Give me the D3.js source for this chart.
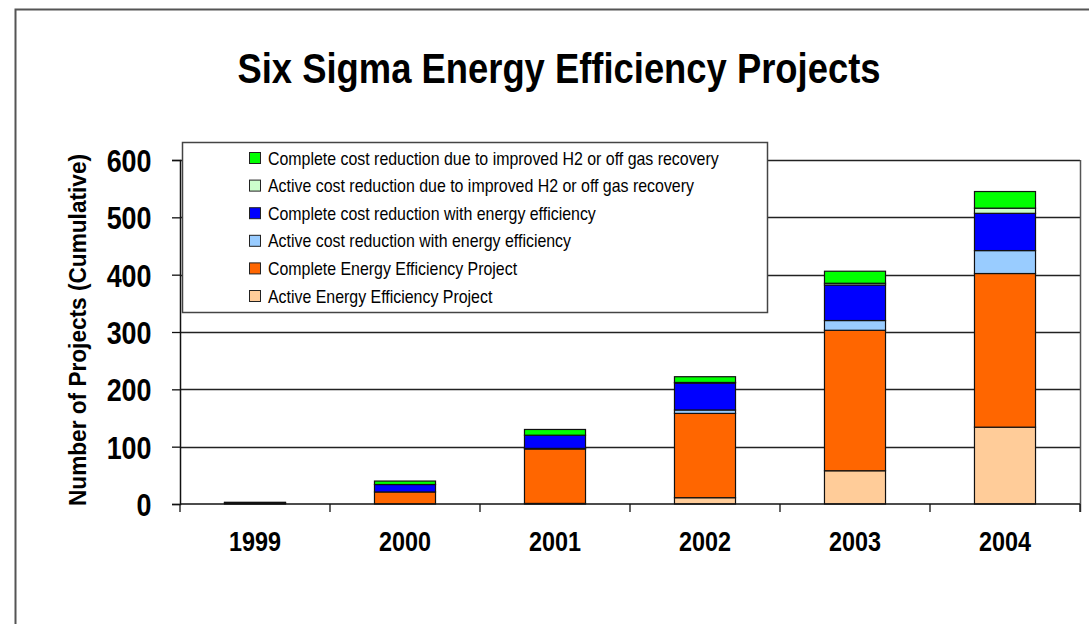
<!DOCTYPE html>
<html>
<head>
<meta charset="utf-8">
<script src="https://cdn.jsdelivr.net/npm/d3@7"></script>
<style>
  body { margin: 0; background: #fff; }
  text { font-family: "Liberation Sans Narrow", "Arial Narrow", "Liberation Sans", Arial, sans-serif; }
</style>
</head>
<body>
<svg width="1089" height="624"></svg>
<script>
// chart data
var years = ["1999", "2000", "2001", "2002", "2003", "2004"];
var seriesNames = [
  "Active Energy Efficiency Project",
  "Complete Energy Efficiency Project",
  "Active cost reduction with energy efficiency",
  "Complete cost reduction with energy efficiency",
  "Active cost reduction due to improved H2 or off gas recovery",
  "Complete cost reduction due to improved H2 or off gas recovery"
];
var activeEE   = [1, 0, 1, 11, 58, 134];
var completeEE = [1, 21, 95, 147, 245, 268];
var activeCost = [0, 0, 1, 6, 17, 40];
var completeCost = [1, 13, 23, 47, 62, 65];
var activeH2   = [0, 0, 0, 1, 3, 9];
var completeH2 = [0, 6, 10, 10, 21, 29];
var yTicks = [0, 100, 200, 300, 400, 500, 600];
var colours = ["#FFCC99", "#FF6600", "#99CCFF", "#0000FF", "#CCFFCC", "#00FF00"];

var svg = d3.select("svg");

// squeeze text horizontally so it looks like a narrow face
function condense(sel, k) {
  sel.each(function() {
    var len = this.getComputedTextLength();
    d3.select(this)
      .attr("textLength", len * k)
      .attr("lengthAdjust", "spacingAndGlyphs");
  });
}

// outer frame (only the top and left edges are in view)
svg.append("path")
    .attr("d", "M15.5,624 V9.5 H1089")
    .attr("fill", "none")
    .attr("stroke", "#555")
    .attr("stroke-width", 2);

var plotLeft = 180, plotRight = 1080, plotTop = 160, plotBottom = 504;

var x = d3.scaleBand()
    .domain(years)
    .range([plotLeft, plotRight])
    .paddingInner(0.593)
    .paddingOuter(0.593 / 2);

var y = d3.scaleLinear()
    .domain([0, 600])
    .range([plotBottom, plotTop]);

// gridlines
svg.append("g")
    .selectAll("line")
    .data(yTicks.filter(function(d) { return d > 0; }))
    .enter().append("line")
    .attr("x1", plotLeft)
    .attr("x2", plotRight)
    .attr("y1", function(d) { return Math.round(y(d)) + 0.5; })
    .attr("y2", function(d) { return Math.round(y(d)) + 0.5; })
    .attr("stroke", "#222")
    .attr("stroke-width", 1.3);

// right edge of plot
svg.append("line")
    .attr("x1", plotRight + 0.5).attr("x2", plotRight + 0.5)
    .attr("y1", plotTop).attr("y2", plotBottom + 8)
    .attr("stroke", "#555").attr("stroke-width", 1.5);

// stacked bars
var rows = years.map(function(yr, i) {
  return { year: yr, s0: activeEE[i], s1: completeEE[i], s2: activeCost[i],
           s3: completeCost[i], s4: activeH2[i], s5: completeH2[i] };
});
var stack = d3.stack().keys(["s0", "s1", "s2", "s3", "s4", "s5"]);
var layers = stack(rows);

svg.append("g")
    .selectAll("g")
    .data(layers)
    .enter().append("g")
    .attr("fill", function(d, i) { return colours[i]; })
    .selectAll("rect")
    .data(function(d) { return d; })
    .enter().append("rect")
    .attr("x", function(d) { return x(d.data.year); })
    .attr("width", x.bandwidth())
    .attr("y", function(d) { return y(d[1]); })
    .attr("height", function(d) { return y(d[0]) - y(d[1]); })
    .attr("stroke", "#111")
    .attr("stroke-width", 1.2);

// y axis
var yAxis = d3.axisLeft(y)
    .tickValues(yTicks)
    .tickSize(8)
    .tickFormat(d3.format("d"));
var yg = svg.append("g")
    .attr("transform", "translate(" + plotLeft + ",0)")
    .call(yAxis);
yg.select(".domain").attr("stroke", "#111").attr("stroke-width", 1.5);
yg.selectAll(".tick line").attr("stroke", "#111").attr("stroke-width", 1.3);
yg.selectAll(".tick text")
    .attr("x", -28.5)
    .attr("dy", "0.36em")
    .attr("font-size", 32)
    .attr("font-weight", "bold")
    .attr("fill", "#000")
    .call(condense, 0.84);

// x axis: ticks at band boundaries
var xg = svg.append("g")
    .attr("transform", "translate(0," + plotBottom + ")");
xg.append("line")
    .attr("x1", plotLeft).attr("x2", plotRight)
    .attr("stroke", "#111").attr("stroke-width", 1.5);
xg.selectAll(".xtick")
    .data(years.concat(["end"]))
    .enter().append("line")
    .attr("class", "xtick")
    .attr("x1", function(d, i) { return plotLeft + i * x.step(); })
    .attr("x2", function(d, i) { return plotLeft + i * x.step(); })
    .attr("y1", 0).attr("y2", 8)
    .attr("stroke", "#111").attr("stroke-width", 1.3);
xg.selectAll(".xlabel")
    .data(years)
    .enter().append("text")
    .attr("class", "xlabel")
    .attr("x", function(d) { return x(d) + x.bandwidth() / 2; })
    .attr("y", 46.5)
    .attr("text-anchor", "middle")
    .attr("font-size", 28)
    .attr("font-weight", "bold")
    .text(function(d) { return d; })
    .call(condense, 0.835);

// axis title
svg.append("text")
    .attr("transform", "translate(78,330) rotate(-90)")
    .attr("text-anchor", "middle")
    .attr("dominant-baseline", "central")
    .attr("font-size", 23)
    .attr("font-weight", "bold")
    .text("Number of Projects (Cumulative)")
    .attr("textLength", 352)
    .attr("lengthAdjust", "spacingAndGlyphs");

// title
svg.append("text")
    .attr("x", 559)
    .attr("y", 83)
    .attr("text-anchor", "middle")
    .attr("font-size", 42)
    .attr("font-weight", "bold")
    .text("Six Sigma Energy Efficiency Projects")
    .attr("textLength", 643)
    .attr("lengthAdjust", "spacingAndGlyphs");

// legend
var legend = svg.append("g");
legend.append("rect")
    .attr("x", 182.5).attr("y", 142.5)
    .attr("width", 585).attr("height", 170)
    .attr("fill", "#fff")
    .attr("stroke", "#444").attr("stroke-width", 1.5);

var legendOrder = d3.range(seriesNames.length).reverse();
var item = legend.selectAll(".item")
    .data(legendOrder)
    .enter().append("g")
    .attr("class", "item")
    .attr("transform", function(d, i) { return "translate(249," + (158 + i * 27.6) + ")"; });
item.append("rect")
    .attr("x", 0.5).attr("y", -5.5)
    .attr("width", 11).attr("height", 11)
    .attr("fill", function(d) { return colours[d]; })
    .attr("stroke", "#222");
item.append("text")
    .attr("x", 19)
    .attr("dy", "0.36em")
    .attr("font-size", 18.5)
    .text(function(d) { return seriesNames[d]; })
    .call(condense, 0.86);
</script>
</body>
</html>
